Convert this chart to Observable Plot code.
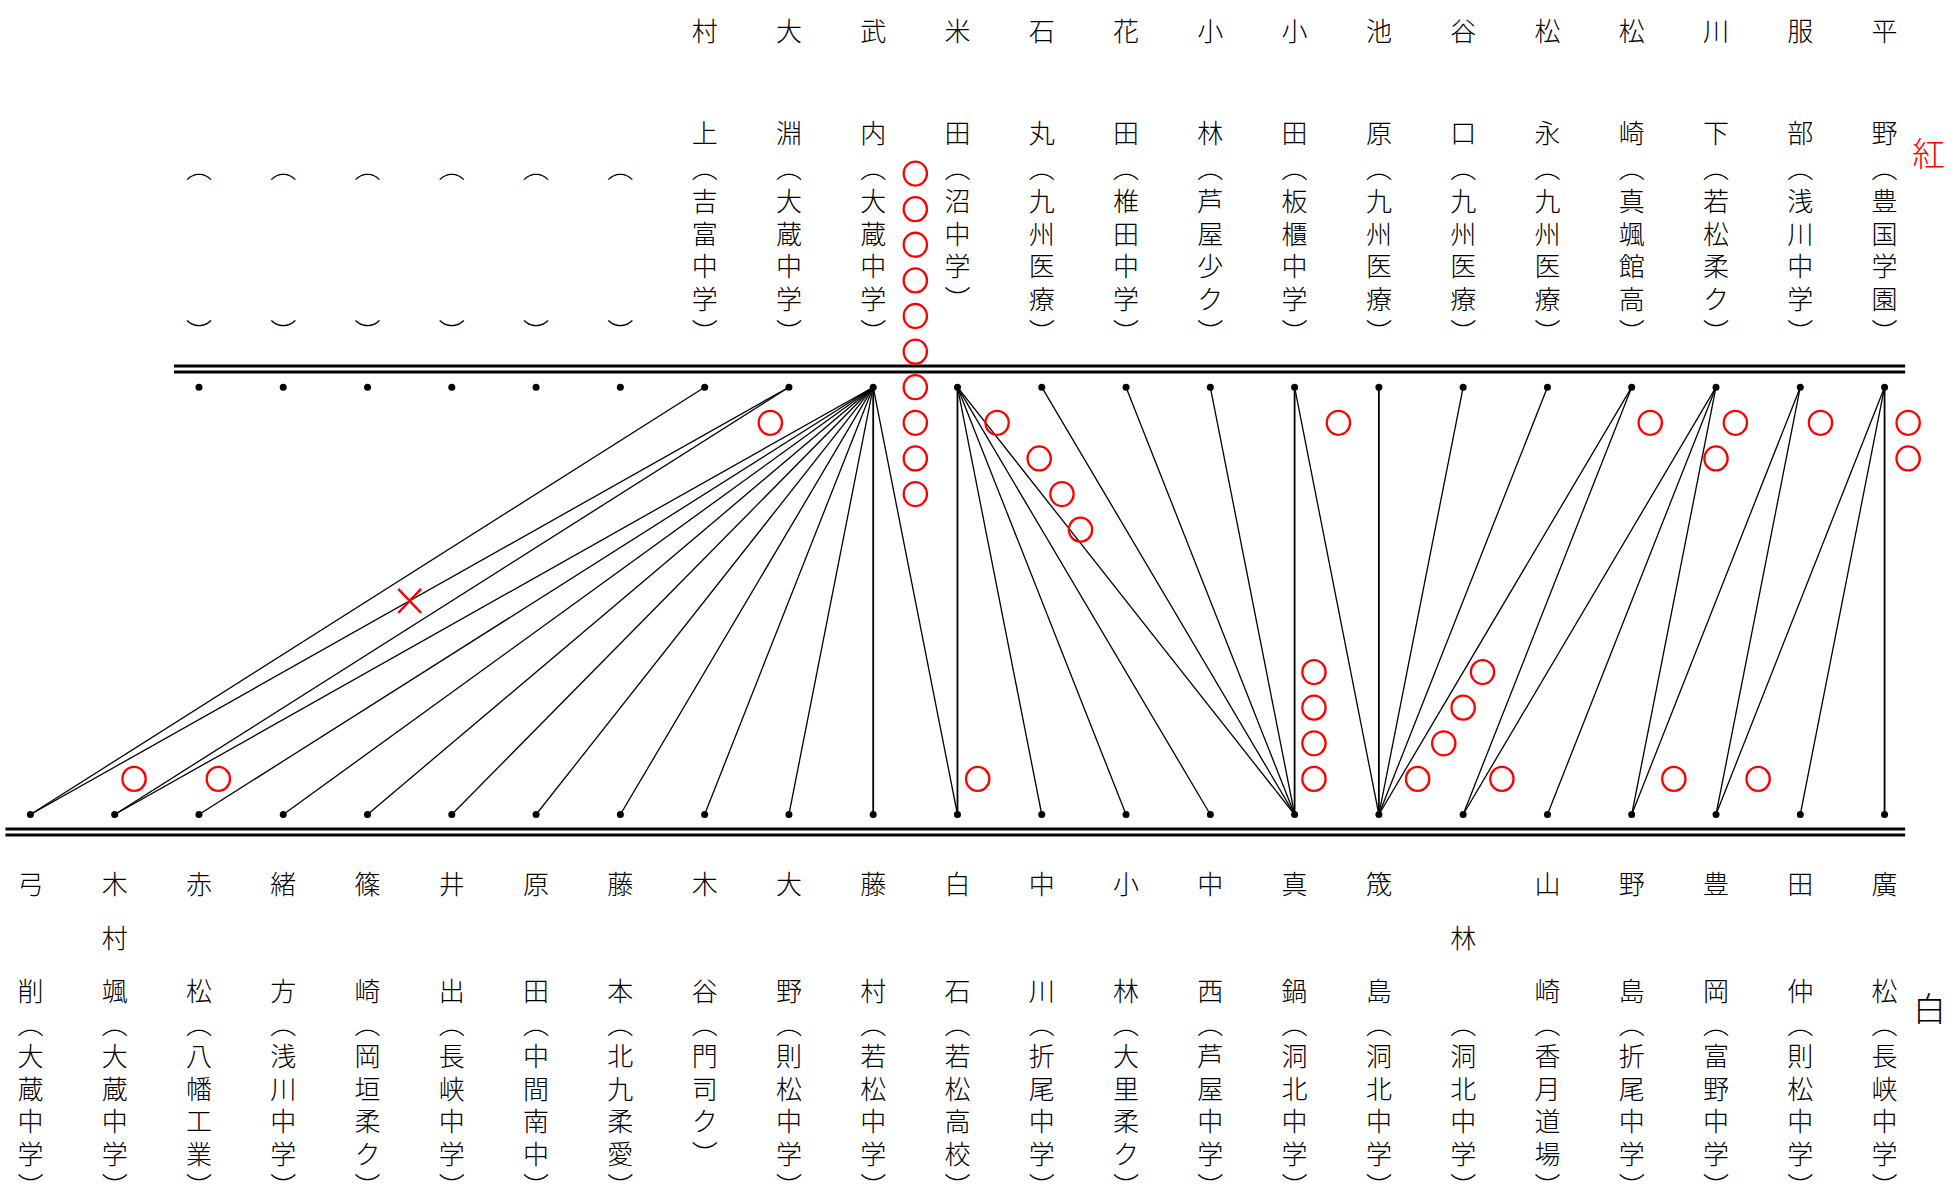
<!DOCTYPE html>
<html><head><meta charset="utf-8">
<script src="https://cdn.jsdelivr.net/npm/d3@7"></script>
<script src="https://cdn.jsdelivr.net/npm/@observablehq/plot@0.6"></script>
<style>body{margin:0;background:#fff;} svg{display:block;}</style>
</head><body><div id="chart"></div>
<script>
// ---- data ----
const redNames = ["", "", "", "", "", "", "村上", "大淵", "武内", "米田", "石丸", "花田", "小林", "小田", "池原", "谷口", "松永", "松崎", "川下", "服部", "平野"];
const redSchools = ["　　　　", "　　　　", "　　　　", "　　　　", "　　　　", "　　　　", "吉富中学", "大蔵中学", "大蔵中学", "沼中学", "九州医療", "椎田中学", "芦屋少ク", "板櫃中学", "九州医療", "九州医療", "九州医療", "真颯館高", "若松柔ク", "浅川中学", "豊国学園"];
const whiteNames = ["弓削", "木村颯", "赤松", "緒方", "篠崎", "井出", "原田", "藤本", "木谷", "大野", "藤村", "白石", "中川", "小林", "中西", "真鍋", "筬島", "林", "山崎", "野島", "豊岡", "田仲", "廣松"];
const whiteSchools = ["大蔵中学", "大蔵中学", "八幡工業", "浅川中学", "岡垣柔ク", "長峡中学", "中間南中", "北九柔愛", "門司ク", "則松中学", "若松中学", "若松高校", "折尾中学", "大里柔ク", "芦屋中学", "洞北中学", "洞北中学", "洞北中学", "香月道場", "折尾中学", "富野中学", "則松中学", "長峡中学"];
// bouts: [red, white]
const bouts = [
  ["村上", "弓削"], ["大淵", "弓削"], ["大淵", "木村颯"],
  ["武内", "木村颯"], ["武内", "赤松"], ["武内", "緒方"], ["武内", "篠崎"], ["武内", "井出"], ["武内", "原田"], ["武内", "藤本"], ["武内", "木谷"], ["武内", "大野"], ["武内", "藤村"], ["武内", "白石"],
  ["米田", "白石"], ["米田", "中川"], ["米田", "小林"], ["米田", "中西"], ["米田", "真鍋"],
  ["石丸", "真鍋"], ["花田", "真鍋"], ["小林", "真鍋"], ["小田", "真鍋"], ["小田", "筬島"],
  ["池原", "筬島"], ["谷口", "筬島"], ["松永", "筬島"], ["松崎", "筬島"], ["松崎", "林"],
  ["川下", "林"], ["川下", "山崎"], ["川下", "野島"],
  ["服部", "野島"], ["服部", "豊岡"],
  ["平野", "豊岡"], ["平野", "田仲"], ["平野", "廣松"]
];
// win marks (○): [column, row] in bout grid units (row 0 = red line, row 12 = white line)
const winMarks = [
  [10.5, -6], [10.5, -5], [10.5, -4], [10.5, -3], [10.5, -2], [10.5, -1], [10.5, 0], [10.5, 1], [10.5, 2], [10.5, 3],
  [8.78, 1],
  [11.47, 1], [11.97, 2], [12.24, 3], [12.46, 4],
  [15.52, 1],
  [19.22, 1],
  [20.23, 1], [20.0, 2],
  [21.24, 1],
  [22.28, 1], [22.28, 2],
  [1.23, 11], [2.23, 11],
  [11.24, 11],
  [15.23, 8], [15.23, 9], [15.23, 10], [15.23, 11],
  [17.23, 8], [17.0, 9], [16.77, 10], [16.46, 11],
  [17.46, 11],
  [19.5, 11],
  [20.5, 11]
];
// draw marks (×)
const drawMarks = [[4.5, 6]];
const teamLabels = ["紅", "白"];

// ---- layout (pixels) ----
const W = 1954, H = 1192;
const X0 = 29.9, XSTEP = 84.28;
const Y0 = 386.7, Y1 = 814;
const rowOf = px => (px - Y0) / (Y1 - Y0) * 12;
const redOffset = whiteNames.length - redNames.length; // red slots start at column 2
const redCol = name => redNames.indexOf(name) + redOffset;
const whiteCol = name => whiteNames.indexOf(name);

const boutData = bouts.map(([r, w]) => ({r: redCol(r), w: whiteCol(w)}));
const redDots = redNames.map((n, i) => ({c: i + redOffset}));
const whiteDots = whiteNames.map((n, i) => ({c: i}));

const overL = 0.29, overR = 0.25;
const rails = [
  {row: rowOf(365.5), x1: redOffset - overL, x2: whiteNames.length - 1 + overR},
  {row: rowOf(371.5), x1: redOffset - overL, x2: whiteNames.length - 1 + overR},
  {row: rowOf(828.5), x1: -overL, x2: whiteNames.length - 1 + overR},
  {row: rowOf(834.5), x1: -overL, x2: whiteNames.length - 1 + overR}
];

// characters
const chars = [];
function placeName(name, col, yTop, yBot) {
  const a = Array.from(name);
  a.forEach((ch, k) => {
    const t = a.length === 1 ? 0.5 : k / (a.length - 1);
    chars.push({c: col, row: rowOf(yTop + t * (yBot - yTop)), ch});
  });
}
function placeSchool(school, col, y0, step) {
  const a = ["︵", ...Array.from(school), "︶"];
  a.forEach((ch, k) => chars.push({c: col, row: rowOf(y0 + k * step), ch}));
}
redNames.forEach((n, i) => { placeName(n, i + redOffset, 32, 134); placeSchool(redSchools[i], i + redOffset, 169.3, 32.7); });
whiteNames.forEach((n, i) => { placeName(n, i, 885, 992.5); placeSchool(whiteSchools[i], i, 1025, 32.5); });
const labels = [
  {c: (1928 - X0) / XSTEP, row: rowOf(155), t: teamLabels[0], col: "#ff0000"},
  {c: (1929 - X0) / XSTEP, row: rowOf(1010), t: teamLabels[1], col: "#000000"}
];

// symbols
const K = 0.5523;
const ellipse = {draw(ctx, size) {
  const r = Math.sqrt(size / Math.PI), rx = r * 0.97, ry = r;
  ctx.moveTo(rx, 0);
  ctx.bezierCurveTo(rx, ry * K, rx * K, ry, 0, ry);
  ctx.bezierCurveTo(-rx * K, ry, -rx, ry * K, -rx, 0);
  ctx.bezierCurveTo(-rx, -ry * K, -rx * K, -ry, 0, -ry);
  ctx.bezierCurveTo(rx * K, -ry, rx, -ry * K, rx, 0);
  ctx.closePath();
}};
const cross = {draw(ctx, size) {
  const r = Math.sqrt(size / Math.PI), a = r * 0.95, b = r;
  ctx.moveTo(-a, -b); ctx.lineTo(a, b);
  ctx.moveTo(a, -b); ctx.lineTo(-a, b);
}};

const FONT = "'Noto Sans CJK JP', 'Noto Sans CJK SC', sans-serif";
const chart = Plot.plot({
  width: W, height: H, margin: 0,
  style: {background: "#fff"},
  x: {domain: [0, 22], range: [X0, X0 + 22 * XSTEP], axis: null},
  y: {domain: [0, 12], range: [Y0, Y1], axis: null},
  marks: [
    Plot.ruleY(rails, {y: "row", x1: "x1", x2: "x2", stroke: "#000", strokeWidth: 3}),
    Plot.link(boutData, {x1: "r", y1: 0, x2: "w", y2: 12, stroke: "#000", strokeWidth: d => d.r === d.w ? 1.8 : 1.3}),
    Plot.dot(redDots, {x: "c", y: 0, r: 3.5, fill: "#000", stroke: null}),
    Plot.dot(whiteDots, {x: "c", y: 12, r: 3.5, fill: "#000", stroke: null}),
    Plot.dot(winMarks, {x: d => d[0], y: d => d[1], r: 12, symbol: ellipse, fill: "none", stroke: "#ff0000", strokeWidth: 2.3}),
    Plot.dot(drawMarks, {x: d => d[0], y: d => d[1], r: 12, symbol: cross, fill: "none", stroke: "#ff0000", strokeWidth: 2.3}),
    Plot.text(chars, {x: "c", y: "row", text: "ch", fontSize: 26, fill: "#000", fontFamily: FONT, fontWeight: 300, textAnchor: "middle", lineAnchor: "middle"}),
    Plot.text(labels, {x: "c", y: "row", text: "t", fill: "col", fontSize: 33, fontFamily: FONT, fontWeight: 300, textAnchor: "middle", lineAnchor: "middle"})
  ]
});
document.getElementById("chart").appendChild(chart);
</script>
</body></html>
